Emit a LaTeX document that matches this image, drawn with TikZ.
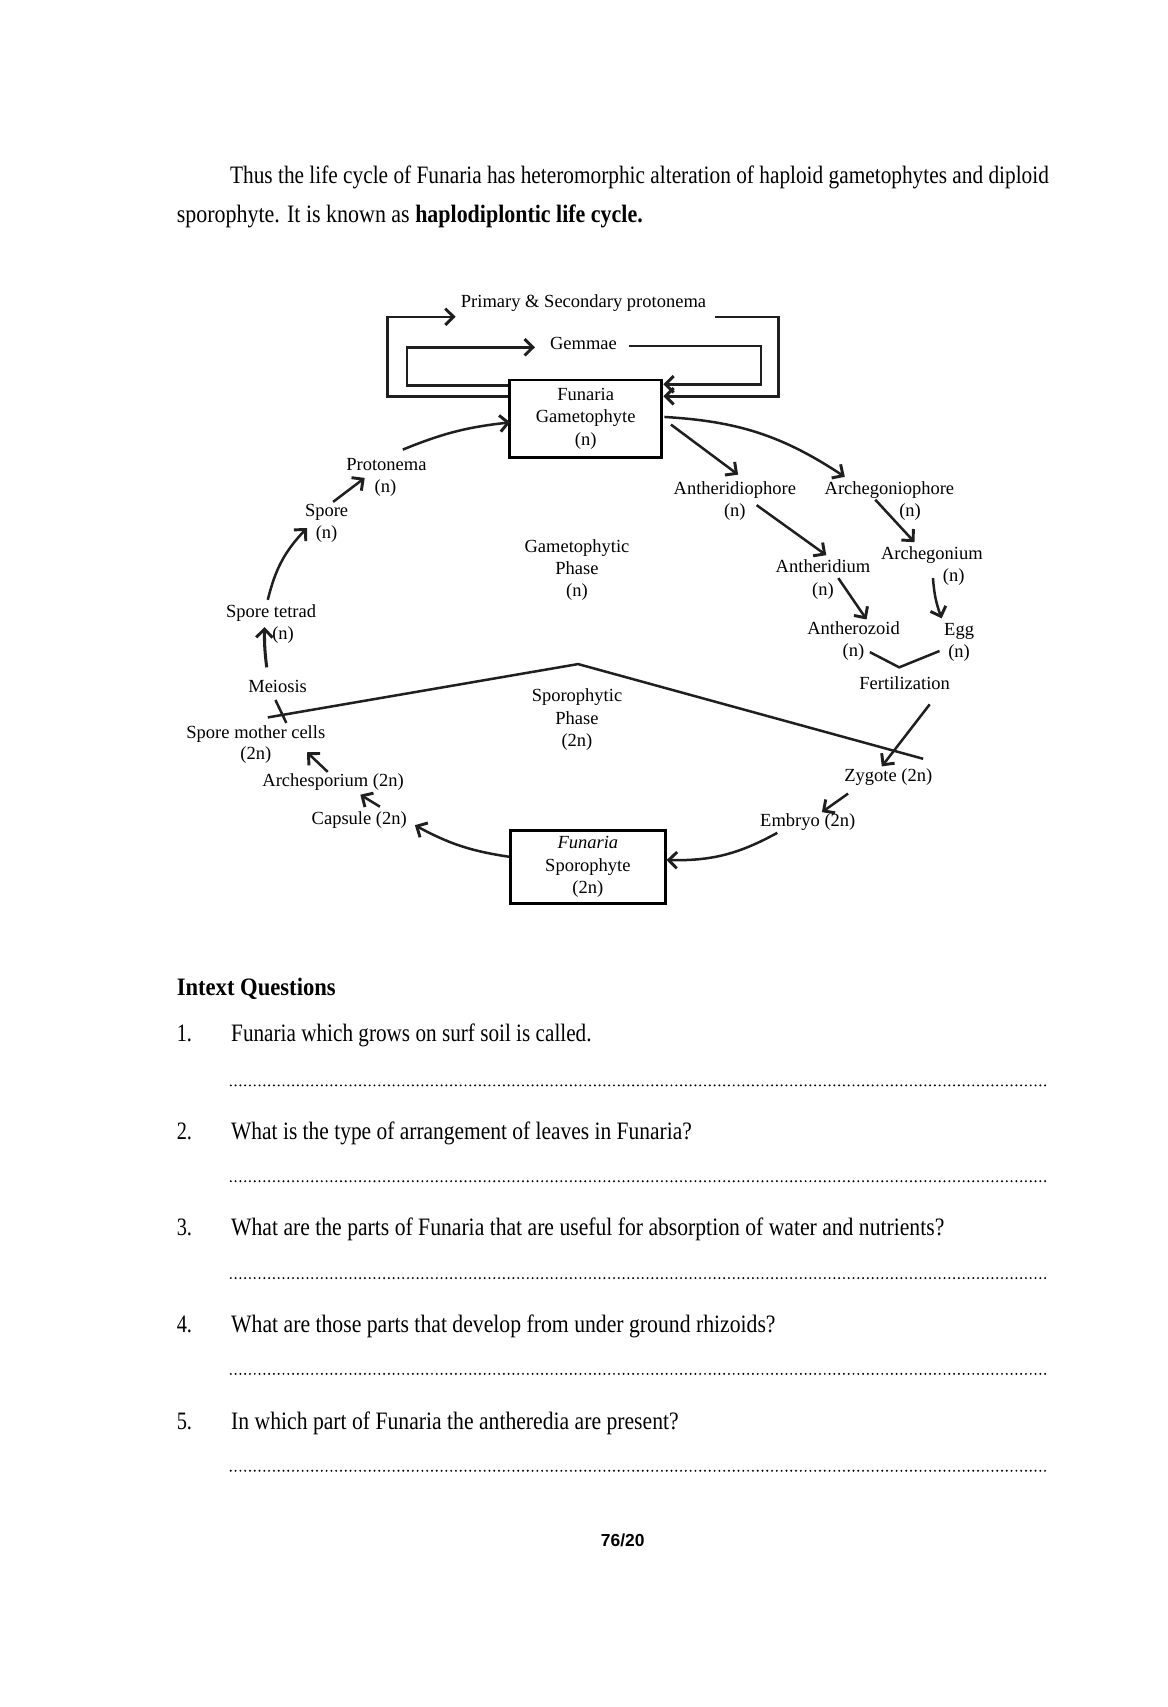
\documentclass[tikz,border=0pt]{standalone}
\usepackage{fontspec}
\setmainfont{Liberation Serif}
\newfontfamily\pagenumfont{Liberation Sans}
\usetikzlibrary{arrows.meta}
\newcommand\fitw[2]{\resizebox{#1}{\height}{#2}}
\begin{document}
\begin{tikzpicture}[x=0.5pt,y=-0.5pt,
 lbl/.style={font=\fontsize{8.5}{10.25}\selectfont, inner sep=0pt, text height=8pt, text depth=1.9pt},
 mlbl/.style={font=\fontsize{8.5}{10.25}\selectfont, inner sep=0pt, align=center},
 phasebox/.style={draw, line width=1.3pt, inner sep=0pt, align=center, font=\fontsize{8.5}{10.25}\selectfont},
 conn/.style={line width=1.15pt, color=black!88},
 arr/.style={conn, -{Straight Barb[length=3.8pt,width=7.5pt,line width=1.35pt]}},
 body/.style={font=\fontsize{11.5}{14}\selectfont, inner sep=0pt, anchor=base west},
 dotline/.style={line width=1pt, line cap=round, dash pattern=on 0pt off 2.2pt}
]
\fill[white] (0,0) rectangle (1072,1568);
\useasboundingbox (0,0) rectangle (1072,1568);

% body text
\node[body] (l1) at (211,169) {\fitw{376pt}{Thus the life cycle of Funaria has heteromorphic alteration of haploid gametophytes and diploid}};
\node[body] (l2) at (162,204) {\fitw{214pt}{sporophyte. It is known as \textbf{haplodiplontic life cycle.}}};

% diagram labels
\node[lbl] (prim) at (536,276) {Primary \& Secondary protonema};
\node[lbl] (gem) at (536,315) {Gemmae};
\node[phasebox, minimum width=70pt, minimum height=35.5pt] (gbox) at (538,384.5) {Funaria\\Gametophyte\\(n)};
\node[phasebox, minimum width=71pt, minimum height=33.5pt] (sbox) at (540,796.5) {\textit{Funaria}\\Sporophyte\\(2n)};
\node[lbl] (protonema) at (355,426) {Protonema};
\node[lbl] (protonemaN) at (354,446) {(n)};
\node[lbl] (spore) at (300,468) {Spore};
\node[lbl] (sporeN) at (300,489) {(n)};
\node[lbl] (tetrad) at (249,561) {Spore tetrad};
\node[lbl] (tetradN) at (260,581) {(n)};
\node[lbl] (meiosis) at (255,630) {Meiosis};
\node[lbl] (smc) at (235,672) {Spore mother cells};
\node[lbl] (smcN) at (235,692) {(2n)};
\node[lbl] (arch) at (306,716) {Archesporium (2n)};
\node[lbl] (capsule) at (330,751) {Capsule (2n)};
\node[mlbl] (gphase) at (530,523.5) {Gametophytic\\Phase\\(n)};
\node[mlbl] (sphase) at (530,661) {Sporophytic\\Phase\\(2n)};
\node[lbl] (antheridiophore) at (675,448) {Antheridiophore};
\node[lbl] (antheridiophoreN) at (675,468) {(n)};
\node[lbl] (archegoniophore) at (817,448) {Archegoniophore};
\node[lbl] (archegoniophoreN) at (836,468) {(n)};
\node[lbl] (antheridium) at (756,520) {Antheridium};
\node[lbl] (antheridiumN) at (756,541) {(n)};
\node[lbl] (archegonium) at (856,508) {Archegonium};
\node[lbl] (archegoniumN) at (876,528) {(n)};
\node[lbl] (antherozoid) at (784,577) {Antherozoid};
\node[lbl] (antherozoidN) at (784,597) {(n)};
\node[lbl] (egg) at (881,578) {Egg};
\node[lbl] (eggN) at (881,598) {(n)};
\node[lbl] (fert) at (831,627) {Fertilization};
\node[lbl] (zygote) at (816,712) {Zygote (2n)};
\node[lbl] (embryo) at (742,753) {Embryo (2n)};

% loops at top
\coordinate (olL) at (356,291);
\coordinate (olR) at (715,291);
\coordinate (ilL) at (374,319);
\coordinate (ilR) at (699,318);
\draw[arr] ([shift={(0,-20.5)}]gbox.west) -| (olL) -- ([shift={(-4.5,15)}]prim.west);
\draw[arr] ([shift={(7.5,15)}]prim.east) -- (olR) |- ([shift={(0,-20.5)}]gbox.east);
\draw[arr] ([shift={(0,-30.5)}]gbox.west) -| (ilL) -- ([shift={(-13.5,4)}]gem.west);
\draw[arr] ([shift={(10.5,3)}]gem.east) -- (ilR) |- ([shift={(0,-31.5)}]gbox.east);

% left side
\draw[arr] ([shift={(15,-13)}]protonema.center) to[bend left=8] ([shift={(2,3.5)}]gbox.west);
\draw[arr] ([shift={(6,-7)}]spore.center) -- ([shift={(-20,13)}]protonema.center);
\draw[arr] ([shift={(-3,-10)}]tetrad.center) to[bend left=15] ([shift={(-18,17)}]spore.center);
\draw[arr, line width=1.4pt] ([shift={(-10,-17)}]meiosis.center) to[bend left=4] ([shift={(-6,15)}]tetrad.center);
\draw[conn] ([shift={(-2,13)}]meiosis.center) -- ([shift={(8,34)}]meiosis.center);

% phase boundary
\coordinate (pbL) at (246,659);
\coordinate (pbTop) at (531,610);
\coordinate (pbR) at (848,697);
\draw[conn] (pbL) -- (pbTop) -- (pbR);

% sporophyte side
\draw[arr] ([shift={(-5,-7)}]arch.center) -- ([shift={(47,19)}]smc.center);
\draw[arr] ([shift={(19,-10)}]capsule.center) -- ([shift={(25,14)}]arch.center);
\draw[arr] ([shift={(0,-9.5)}]sbox.west) to[bend left=10] ([shift={(7,7)}]capsule.east);
\draw[arr] ([shift={(-28,12)}]embryo.center) to[bend left=15] ([shift={(0,-6.5)}]sbox.east);
\draw[arr] ([shift={(-37,17)}]zygote.center) -- ([shift={(13,-7)}]embryo.center);
\draw[arr] ([shift={(23,20)}]fert.center) -- ([shift={(-6,-8)}]zygote.center);

% right side
\draw[conn] ([shift={(15,2)}]antherozoidN.center) -- ([shift={(-5,-14)}]fert.center) -- ([shift={(-18,0)}]eggN.center);
\draw[arr] ([shift={(1,23)}]archegonium.center) to[bend right=8] ([shift={(-16,-10)}]egg.center);
\draw[arr] ([shift={(14,-10)}]antheridiumN.center) -- ([shift={(12,-8)}]antherozoid.center);
\draw[arr] ([shift={(20,-4)}]antheridiophoreN.center) -- ([shift={(3,-10)}]antheridium.center);
\draw[arr] ([shift={(-13,11)}]archegoniophore.center) -- ([shift={(-16,-10)}]archegonium.center);
\draw[arr] ([shift={(7,5.5)}]gbox.east) -- ([shift={(3,-12)}]antheridiophore.center);
\draw[arr] ([shift={(1,-1.5)}]gbox.east) to[bend left=15] ([shift={(-41,-10)}]archegoniophore.center);

% questions
\node[body] (iq) at (162,914) {\fitw{73pt}{\textbf{Intext Questions}}};
\node[body] (n1) at (162,957) {\fitw{7pt}{1.}};
\node[body] (q1) at (212,957) {\fitw{165.5pt}{Funaria which grows on surf soil is called.}};
\draw[dotline] (212,997) -- (960,997);
\node[body] (n2) at (162,1047) {\fitw{7pt}{2.}};
\node[body] (q2) at (212,1047) {\fitw{211.5pt}{What is the type of arrangement of leaves in Funaria?}};
\draw[dotline] (212,1085) -- (960,1085);
\node[body] (n3) at (162,1135) {\fitw{7pt}{3.}};
\node[body] (q3) at (212,1135) {\fitw{327.5pt}{What are the parts of Funaria that are useful for absorption of water and nutrients?}};
\draw[dotline] (212,1174) -- (960,1174);
\node[body] (n4) at (162,1224) {\fitw{7pt}{4.}};
\node[body] (q4) at (212,1224) {\fitw{250pt}{What are those parts that develop from under ground rhizoids?}};
\draw[dotline] (212,1262) -- (960,1262);
\node[body] (n5) at (162,1313) {\fitw{7pt}{5.}};
\node[body] (q5) at (212,1313) {\fitw{205.5pt}{In which part of Funaria the antheredia are present?}};
\draw[dotline] (212,1351) -- (960,1351);

\node[font={\fontsize{8}{10}\selectfont\pagenumfont\bfseries}, inner sep=0pt] (pg) at (572,1415) {76/20};
\end{tikzpicture}
\end{document}
